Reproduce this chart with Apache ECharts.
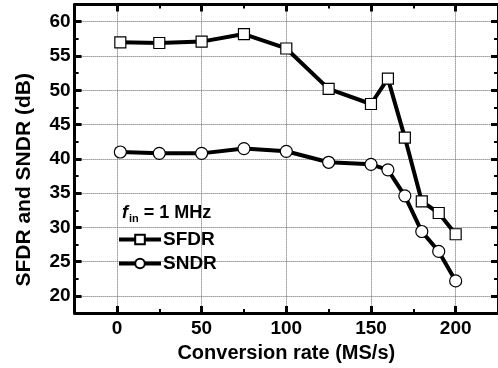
<!DOCTYPE html>
<html>
<head>
<meta charset="utf-8">
<script src="https://cdn.jsdelivr.net/npm/echarts@6/dist/echarts.min.js"></script>
<style>
  html, body { margin: 0; padding: 0; background: #fff; }
  #chart { width: 498px; height: 368px; }
</style>
</head>
<body>
<div id="chart"></div>
<script>
// values
const rate = [2, 25, 50, 75, 100, 125, 150, 160, 170, 180, 190, 200];
const sfdr = [57.0, 56.9, 57.1, 58.2, 56.1, 50.2, 48.0, 51.7, 43.1, 33.8, 32.1, 29.0];
const sndr = [41.0, 40.8, 40.8, 41.5, 41.1, 39.5, 39.2, 38.4, 34.6, 29.4, 26.5, 22.2];

// tick positions (major ones carry labels + grid lines)
const xMajor = [0, 50, 100, 150, 200];
const xMinor = [25, 75, 125, 175];
const yMajor = [20, 25, 30, 35, 40, 45, 50, 55, 60];
const yMinor = [22.5, 27.5, 32.5, 37.5, 42.5, 47.5, 52.5, 57.5];

const FONT = "'Liberation Sans', Arial, sans-serif";
const labelStyle = { fontFamily: FONT, fontWeight: 'bold', fontSize: 19, color: '#000' };
const gridLine = { show: true, lineStyle: { type: 'dotted', color: '#666', width: 1 } };

// one frame side = an axis with only ticks (major or minor)
function frameAxis(base, position, values, major, extra) {
  return Object.assign({
    type: 'value',
    position: position,
    axisLine: { show: major, onZero: false, lineStyle: { color: '#000', width: 3 } },
    axisTick: {
      inside: true,
      length: major ? 7 : 4,
      customValues: values,
      lineStyle: { color: '#000', width: major ? 3 : 2 },
    },
    axisLabel: { show: false },
    splitLine: { show: false },
  }, base, extra || {});
}

const xBase = { min: -25, max: 225 };
const yBase = { min: 17.5, max: 62.5 };

const option = {
  animation: false,
  grid: { left: 74.6, top: 4.6, width: 425, height: 312.8, containLabel: false },
  title: {
    left: 117,
    top: 198,
    text: '{f|f}{sub|in}{t| = 1 MHz}',
    textStyle: {
      rich: {
        f: { fontFamily: FONT, fontWeight: 'bold', fontStyle: 'italic', fontSize: 18, color: '#000' },
        sub: { fontFamily: FONT, fontWeight: 'bold', fontSize: 11, color: '#000', padding: [10, 0, 0, 1] },
        t: { fontFamily: FONT, fontWeight: 'bold', fontSize: 18, color: '#000' },
      },
    },
  },
  legend: {
    orient: 'vertical',
    left: 117,
    top: 230,
    padding: 0,
    itemWidth: 42,
    itemHeight: 12,
    itemGap: 5,
    lineStyle: { width: 4 },
    textStyle: Object.assign({}, labelStyle, { padding: [0, 0, 0, -3] }),
    data: ['SFDR', 'SNDR'],
  },
  xAxis: [
    frameAxis(xBase, 'bottom', xMajor, true, {
      axisLabel: Object.assign({ customValues: xMajor, margin: 6 }, labelStyle),
      splitLine: gridLine,
      name: 'Conversion rate (MS/s)',
      nameLocation: 'middle',
      nameGap: 25,
      nameTextStyle: Object.assign({}, labelStyle, { fontSize: 20 }),
    }),
    frameAxis(xBase, 'bottom', xMinor, false),
    frameAxis(xBase, 'top', xMajor, true),
    frameAxis(xBase, 'top', xMinor, false),
  ],
  yAxis: [
    frameAxis(yBase, 'left', yMajor, true, {
      axisLabel: Object.assign({ customValues: yMajor, margin: 4 }, labelStyle),
      splitLine: gridLine,
      name: 'SFDR and SNDR (dB)',
      nameLocation: 'middle',
      nameGap: 40,
      nameTextStyle: Object.assign({}, labelStyle, { fontSize: 21, padding: [0, 42, 0, 0] }),
    }),
    frameAxis(yBase, 'left', yMinor, false),
    frameAxis(yBase, 'right', yMajor, true),
    frameAxis(yBase, 'right', yMinor, false),
  ],
  series: [
    {
      name: 'SFDR',
      type: 'line',
      data: rate.map((x, i) => [x, sfdr[i]]),
      symbol: 'rect',
      symbolSize: 11,
      showAllSymbol: true,
      lineStyle: { color: '#000', width: 4 },
      itemStyle: { color: '#fff', borderColor: '#000', borderWidth: 1.2 },
      z: 3,
    },
    {
      name: 'SNDR',
      type: 'line',
      data: rate.map((x, i) => [x, sndr[i]]),
      symbol: 'circle',
      symbolSize: 12,
      showAllSymbol: true,
      lineStyle: { color: '#000', width: 4 },
      itemStyle: { color: '#fff', borderColor: '#000', borderWidth: 1.2 },
      z: 3,
    },
  ],
};

const chart = echarts.init(document.getElementById('chart'), null, { renderer: 'canvas' });
chart.setOption(option);
</script>
</body>
</html>
